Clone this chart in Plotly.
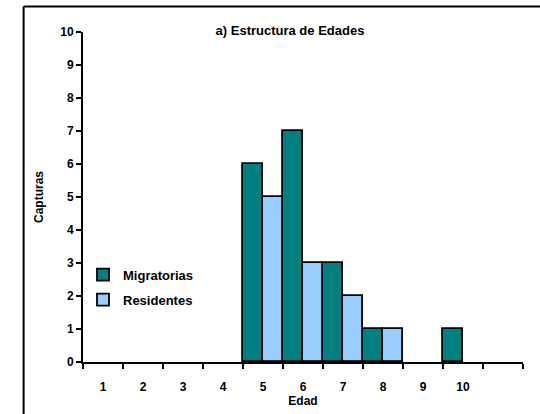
import plotly.graph_objects as go

edades = ["1", "2", "3", "4", "5", "6", "7", "8", "9", "10", " "]
migratorias = [0, 0, 0, 0, 6, 7, 3, 1, 0, 1, 0]
residentes = [0, 0, 0, 0, 5, 3, 2, 1, 0, 0, 0]
y_ticks = [0, 1, 2, 3, 4, 5, 6, 7, 8, 9, 10]

FAM = "Arial, Liberation Sans, sans-serif"
bold = lambda s: dict(family=FAM, size=s, color="black", weight="bold")
# zero counts are left blank so no empty outline is drawn on the axis
visible = lambda vals: [v if v else None for v in vals]

fig = go.Figure()
fig.add_trace(go.Bar(x=edades, y=visible(migratorias), name="Migratorias",
                     legendgroup="m",
                     marker=dict(color="#008080", line=dict(color="black", width=1.8))))
fig.add_trace(go.Bar(x=edades, y=visible(residentes), name="Residentes",
                     legendgroup="r",
                     marker=dict(color="#99CCFF", line=dict(color="black", width=1.8))))

fig.update_layout(
    width=540, height=414,
    margin=dict(l=83, r=17, t=32, b=52),
    paper_bgcolor="white", plot_bgcolor="white",
    barmode="group", bargap=0, bargroupgap=0,
    font=bold(12),
    title=dict(text="a) Estructura de Edades", x=0.537, xanchor="center",
               y=0.927, yanchor="middle", font=bold(13)),
    showlegend=True,
    legend=dict(x=0.0, y=0.31, xanchor="left", yanchor="top",
                bgcolor="rgba(0,0,0,0)", traceorder="grouped", tracegroupgap=5,
                font=bold(13)),
    xaxis=dict(type="category", categoryorder="array", categoryarray=edades,
               range=[-0.5, 10.5], tickson="boundaries", automargin=False,
               ticks="outside", ticklen=5, tickwidth=2, tickcolor="black",
               showline=True, linecolor="black", linewidth=2,
               showgrid=False, zeroline=False,
               ticklabelstandoff=13,
               tickfont=bold(12),
               title=dict(text="Edad", standoff=2, font=bold(12))),
    yaxis=dict(range=[0, 10], tickvals=y_ticks, automargin=False,
               ticks="outside", ticklen=5, tickwidth=2, tickcolor="black",
               showline=True, linecolor="black", linewidth=2,
               showgrid=False, zeroline=False,
               tickfont=bold(12),
               title=dict(text="Capturas", standoff=14, font=bold(12))),
    shapes=[
        dict(type="line", xref="paper", yref="paper", x0=-0.135, x1=1.1, y0=1.077, y1=1.077,
             line=dict(color="black", width=2)),
        dict(type="line", xref="paper", yref="paper", x0=-0.135, x1=-0.135, y0=1.077, y1=-0.3,
             line=dict(color="black", width=2)),
    ],
)

fig.write_html("out.html", config={"displayModeBar": False},
               post_script="document.body.style.margin='0';document.body.style.padding='0';")
